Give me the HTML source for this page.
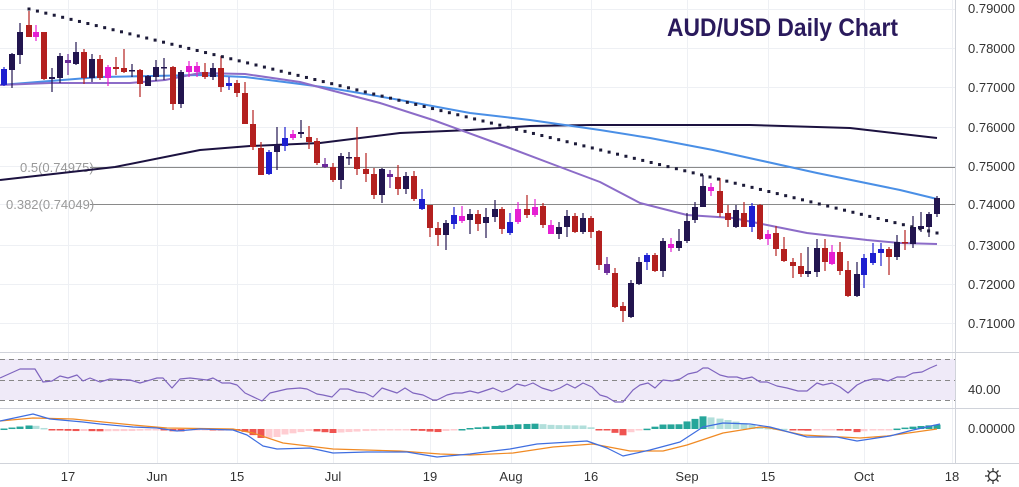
<!DOCTYPE html>
<html><head><meta charset="utf-8"><style>
html,body{margin:0;padding:0;background:#fff;}
svg{display:block;font-family:"Liberation Sans",sans-serif;}
</style></head><body>
<svg id="s" width="1019" height="487" viewBox="0 0 1019 487" xmlns="http://www.w3.org/2000/svg">
<rect width="1019" height="487" fill="#fff"/>
<g id="grid" stroke="#eef0f4" stroke-width="1"></g>
<rect x="0" y="359" width="955" height="41" fill="#efeaf8"/>
<g stroke="#888" stroke-width="1" stroke-dasharray="5,4">
<line x1="0" y1="359.5" x2="955" y2="359.5"/><line x1="0" y1="380.5" x2="955" y2="380.5"/><line x1="0" y1="400.5" x2="955" y2="400.5"/>
</g>
<g stroke="#d0d3da" stroke-width="1">
<line x1="0" y1="352.5" x2="1019" y2="352.5"/><line x1="0" y1="408.5" x2="1019" y2="408.5"/><line x1="0" y1="463.5" x2="1019" y2="463.5"/>
<line x1="955.5" y1="0" x2="955.5" y2="463"/>
</g>
<line x1="90" y1="167.5" x2="955" y2="167.5" stroke="#8a8a8a"/>
<line x1="90" y1="204.5" x2="955" y2="204.5" stroke="#8a8a8a"/>
<text x="20" y="172" font-size="13" fill="#999">0.5(0.74975)</text>
<text x="6" y="209" font-size="13" fill="#999">0.382(0.74049)</text>
<g id="mas" fill="none"></g>
<g id="candles"></g>
<g id="dots" fill="#1c1a38"></g>
<g id="ind" fill="none"></g>
<text x="667" y="36" font-size="25" font-weight="bold" fill="#2a1a5c" textLength="231" lengthAdjust="spacingAndGlyphs">AUD/USD Daily Chart</text>
<g font-size="13" fill="#333">
<text x="968" y="13">0.79000</text><text x="968" y="53">0.78000</text><text x="968" y="92">0.77000</text>
<text x="968" y="132">0.76000</text><text x="968" y="171">0.75000</text><text x="968" y="209">0.74000</text>
<text x="968" y="250">0.73000</text><text x="968" y="289">0.72000</text><text x="968" y="328">0.71000</text>
<text x="968" y="394">40.00</text><text x="968" y="433">0.00000</text>
</g>
<g font-size="13" fill="#333" text-anchor="middle">
<text x="68" y="481">17</text><text x="157" y="481">Jun</text><text x="237" y="481">15</text>
<text x="333" y="481">Jul</text><text x="430" y="481">19</text><text x="511" y="481">Aug</text>
<text x="591" y="481">16</text><text x="687" y="481">Sep</text><text x="768" y="481">15</text>
<text x="864" y="481">Oct</text><text x="952" y="481">18</text>
</g>
<g stroke="#333" stroke-width="1.3" fill="none"><circle cx="993" cy="476" r="4.5"/>
<path d="M993 468v3M993 481v3M985 476h3M998 476h3M987.5 470.5l2 2M996.5 479.5l2 2M987.5 481.5l2-2M996.5 472.5l2-2"/></g>
</svg>
<script>
var NS="http://www.w3.org/2000/svg";
function el(p,t,a){var e=document.createElementNS(NS,t);for(var k in a)e.setAttribute(k,a[k]);document.getElementById(p).appendChild(e);return e;}
[13,52,91,131,170,208,249,288,327].forEach(function(y){el("grid","line",{x1:0,y1:y-3.5,x2:955,y2:y-3.5});});
[68,157,237,333,430,511,591,687,768,864,952].forEach(function(x){el("grid","line",{x1:x+.5,y1:0,x2:x+.5,y2:463});});
function pl(p,pts,c,w){el(p,"polyline",{points:pts.map(function(q){return q.join(",")}).join(" "),stroke:c,"stroke-width":w,"stroke-linejoin":"round"});}
pl("mas",[[0,180],[115,167],[200,150],[250,146],[320,143],[400,133],[470,130],[530,126],[590,125],[650,125],[750,125],[850,128],[937,138]],"#1c1240",2);
pl("mas",[[0,85],[100,77],[200,75],[245,77],[300,84],[330,88],[400,100],[470,113],[530,120],[600,130],[650,138],[713,150],[817,173],[900,190],[937,199]],"#4a8fe6",2);
pl("mas",[[0,85],[50,83],[130,83],[165,80],[200,73],[245,74],[300,82],[330,90],[380,103],[433,120],[507,147],[560,167],[600,182],[640,203],[687,215],[733,218],[767,225],[807,233],[867,240],[900,243],[937,244]],"#8c6cc8",2);
var D="#22154f",R="#b3201f",B="#1d1fd0",M="#e51fd3",P="#6a2a9a";
var C=[[4,69,85,67,86,B],[12,54,70,53,88,D],[20,32,55,23,64,D],[29,25,37,11,37,R],[36,32,37,25,41,M],[44,32,79,32,80,R],[52,77,79,68,92,D],[60,56,78,53,83,D],[68,60,63,54,75,P],[76,52,64,42,65,D],[84,52,78,49,84,R],[92,59,78,54,82,D],[100,59,78,55,80,R],[108,67,78,65,86,M],[116,67,69,57,75,R],[124,68,72,49,73,R],[132,70,71,64,77,D],[140,70,84,69,97,R],[148,76,86,75,86,D],[156,67,77,60,81,D],[164,67,68,58,80,D],[173,67,104,66,110,R],[181,72,104,70,108,D],[189,66,72,61,77,M],[197,66,72,62,77,M],[205,72,77,63,79,R],[213,68,77,63,80,D],[221,68,87,56,92,R],[229,83,86,77,90,B],[237,83,93,80,97,R],[245,93,124,82,124,R],[253,124,147,110,150,R],[261,148,175,142,175,R],[269,152,174,150,175,B],[277,145,152,127,170,D],[285,138,146,127,151,B],[293,134,138,130,140,M],[301,132,134,120,138,D],[309,137,142,126,149,R],[317,141,163,138,165,R],[325,164,167,158,168,P],[333,167,180,163,182,R],[341,156,180,153,189,D],[349,157,158,152,165,D],[357,157,169,127,175,R],[366,169,174,153,182,R],[374,174,195,168,199,R],[382,169,195,168,203,D],[390,174,177,170,188,P],[398,177,189,165,195,R],[406,176,189,172,194,D],[414,176,199,171,201,R],[422,199,209,189,210,B],[430,205,228,205,237,R],[438,228,235,222,246,R],[446,223,235,220,250,D],[454,215,224,207,229,B],[462,216,221,206,223,M],[470,214,220,209,234,D],[478,214,224,210,231,R],[486,217,223,208,238,D],[495,209,217,200,222,D],[502,209,229,207,234,R],[510,222,233,213,235,B],[518,209,222,202,224,M],[527,209,215,195,218,R],[535,207,215,199,217,M],[543,206,225,203,228,R],[551,225,234,220,234,M],[559,227,234,222,239,D],[567,216,227,210,237,D],[575,216,232,213,233,R],[583,218,232,213,234,D],[591,218,232,216,238,R],[599,231,265,230,270,R],[607,264,273,257,275,P],[615,273,307,268,308,R],[623,306,311,302,322,R],[631,283,317,280,318,D],[639,262,284,257,285,D],[647,255,262,253,270,B],[655,255,271,253,272,R],[663,241,271,238,277,D],[671,244,248,238,252,M],[679,241,248,229,251,D],[687,221,241,213,243,D],[695,207,220,202,223,D],[703,186,207,175,207,D],[711,187,191,183,196,M],[720,191,213,178,217,R],[728,213,220,205,227,R],[736,210,227,205,228,D],[744,213,227,202,227,R],[752,206,227,203,232,B],[760,205,239,204,240,R],[768,234,239,230,245,M],[776,233,249,226,256,R],[784,249,261,237,262,R],[793,262,266,258,278,R],[801,266,274,253,277,R],[808,271,274,247,277,D],[817,248,272,239,277,D],[825,248,262,239,271,R],[832,252,264,245,265,M],[840,252,271,242,275,R],[848,270,296,261,297,R],[857,274,296,262,297,D],[864,258,275,254,288,B],[873,253,263,243,265,B],[881,249,253,243,266,B],[889,249,257,247,275,R],[897,242,257,235,260,D],[905,242,243,230,250,R],[913,227,244,216,248,D],[921,226,229,212,232,D],[929,214,227,212,237,D],[937,198,214,196,217,D]];
C.forEach(function(c){el("candles","line",{x1:c[0],y1:c[3],x2:c[0],y2:c[4],stroke:c[5],"stroke-width":1.2});
el("candles","rect",{x:c[0]-3,y:c[1],width:6,height:Math.max(1.5,c[2]-c[1]),fill:c[5]});});
for(var i=0;i<=108;i++){var t=i/108;el("dots","rect",{x:29+t*908-1.5,y:9+t*224-1.5,width:3,height:3});}
pl("ind",[[0,378],[20,369],[35,369],[43,382],[52,381],[60,376],[68,378],[77,375],[83,381],[90,378],[100,382],[110,379],[130,380],[140,383],[157,378],[163,378],[172,388],[180,379],[190,378],[207,380],[213,378],[222,383],[230,383],[237,385],[245,393],[262,401],[270,393],[287,389],[300,388],[307,389],[317,394],[323,395],[332,397],[340,389],[348,389],[357,392],[365,393],[373,397],[382,388],[397,393],[405,388],[413,393],[423,395],[433,400],[437,400],[447,395],[455,393],[462,393],[470,391],[478,393],[493,388],[502,392],[510,389],[517,384],[525,386],[533,383],[542,388],[552,391],[560,388],[567,384],[575,388],[583,383],[592,387],[600,395],[607,397],[615,402],[623,402],[633,390],[640,385],[648,383],[655,388],[663,380],[672,381],[680,379],[688,374],[697,372],[703,368],[708,368],[720,375],[728,377],[737,377],[743,379],[752,377],[760,382],[767,382],[777,386],[787,388],[798,391],[807,391],[817,383],[823,385],[832,383],[840,387],[848,393],[857,385],[865,381],[873,379],[880,379],[888,381],[897,377],[905,377],[913,373],[922,372],[930,368],[937,365]],"#7f65bf",1.2);
var BL=[[0,421],[33,414],[50,419],[83,422],[100,424],[133,427],[157,428],[177,431],[200,429],[233,430],[247,435],[263,446],[277,449],[310,448],[333,453],[367,452],[407,452],[437,457],[470,454],[493,451],[510,449],[537,444],[587,441],[607,448],[623,456],[650,450],[680,442],[703,427],[723,423],[750,424],[770,427],[807,437],[837,437],[857,441],[890,436],[913,430],[940,424]];
var OR=[[0,421],[33,418],[73,419],[133,425],[167,428],[233,429],[253,433],[283,443],[333,449],[400,451],[440,454],[470,455],[513,453],[553,447],[593,444],[630,451],[663,451],[687,445],[723,433],[760,427],[770,428],[803,435],[860,438],[887,436],[937,429]];
function itp(a,x){for(var i=1;i<a.length;i++){if(x<=a[i][0]){var t=(x-a[i-1][0])/(a[i][0]-a[i-1][0]);return a[i-1][1]+t*(a[i][1]-a[i-1][1]);}}return a[a.length-1][1];}
var prev=0;
for(var k=0;k<C.length;k++){var x=C[k][0];var h=(itp(OR,x)-itp(BL,x))*1.0;var col;
if(h>=0)col=h>=prev?"#26a69a":"#b2dfdb";else col=h<prev?"#ef5350":"#ffcdd2";
el("ind","rect",{x:x-3.5,y:h>=0?429-h:429,width:7,height:Math.max(1.5,Math.abs(h)),fill:col,stroke:"none"});prev=h;}
pl("ind",OR,"#f08a24",1.2);
pl("ind",BL,"#3f6ee0",1.2);
</script>
</body></html>
